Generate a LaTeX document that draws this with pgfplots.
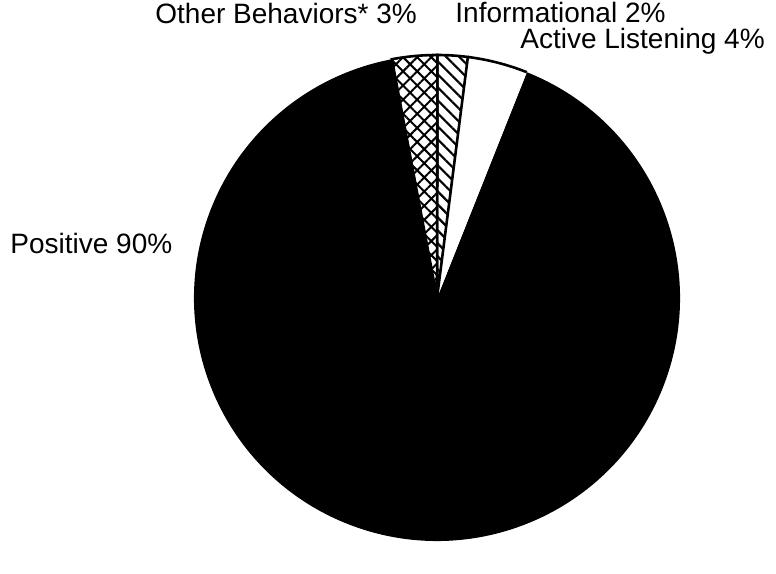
\documentclass[border=0pt]{standalone}
\usepackage{pgfplots}
\pgfplotsset{compat=1.18}
\usepackage{pgfplotstable}
\usetikzlibrary{patterns.meta}
\usepackage{fontspec}
\setmainfont{Liberation Sans}

\pgfplotstableread{
label value
Other 3
Informational 2
Active 4
Positive 90
}\piedata

\begin{document}
\begin{tikzpicture}
\pgfplotstablegetelem{0}{value}\of\piedata \edef\vOther{\pgfplotsretval}
\pgfplotstablegetelem{1}{value}\of\piedata \edef\vInfo{\pgfplotsretval}
\pgfplotstablegetelem{2}{value}\of\piedata \edef\vActive{\pgfplotsretval}
\pgfplotstablegetelem{3}{value}\of\piedata \edef\vPos{\pgfplotsretval}
\pgfmathsetmacro\aA{100.7}
\pgfmathsetmacro\aB{\aA-3.6*\vOther}
\pgfmathsetmacro\aC{\aB-3.6*\vInfo}
\pgfmathsetmacro\aD{\aC-3.6*\vActive}
\pgfmathsetmacro\aE{\aA-360}
\def\R{121.5pt}
\begin{axis}[
  hide axis, scale only axis,
  width=388pt, height=271.5pt,
  xmin=0, xmax=776, ymin=0, ymax=543,
  clip=false,
]
\path (axis cs:0,0) rectangle (axis cs:776,543);
% Positive
\fill[black] (axis cs:437,245) -- ++(\aD:\R) arc[start angle=\aD, end angle=\aE, radius=\R] -- cycle;
% Active Listening (white)
\fill[white] (axis cs:437,245) -- ++(\aC:\R) arc[start angle=\aC, end angle=\aD, radius=\R] -- cycle;
\draw[black, line width=1.3pt] (axis cs:437,245) ++(\aC:\R) arc[start angle=\aC, end angle=\aD, radius=\R];
% Informational
\fill[white] (axis cs:437,245) -- ++(\aB:\R) arc[start angle=\aB, end angle=\aC, radius=\R] -- cycle;
\fill[pattern={Lines[angle=-45,distance=4.6pt,line width=1.1pt]}, pattern color=black] (axis cs:437,245) -- ++(\aB:\R) arc[start angle=\aB, end angle=\aC, radius=\R] -- cycle;
\draw[black, line width=1.3pt] (axis cs:437,245) -- ++(\aB:\R) arc[start angle=\aB, end angle=\aC, radius=\R] -- cycle;
% Other Behaviors
\fill[white] (axis cs:437,245) -- ++(\aA:\R) arc[start angle=\aA, end angle=\aB, radius=\R] -- cycle;
\fill[pattern={Hatch[angle=45,distance=5pt,line width=1.0pt]}, pattern color=black] (axis cs:437,245) -- ++(\aA:\R) arc[start angle=\aA, end angle=\aB, radius=\R] -- cycle;
\draw[black, line width=1.3pt] (axis cs:437,245) -- ++(\aA:\R) arc[start angle=\aA, end angle=\aB, radius=\R] -- cycle;
% labels
\node[anchor=base west, inner sep=0pt, font=\fontsize{14}{16}\selectfont] at (axis cs:155,519) {Other Behaviors* \vOther\%};
\node[anchor=base west, inner sep=0pt, font=\fontsize{14}{16}\selectfont] at (axis cs:455,520) {Informational \vInfo\%};
\node[anchor=base west, inner sep=0pt, font=\fontsize{14}{16}\selectfont] at (axis cs:520,494) {Active Listening \vActive\%};
\node[anchor=base west, inner sep=0pt, font=\fontsize{14}{16}\selectfont] at (axis cs:10,289) {Positive \vPos\%};
\end{axis}
\end{tikzpicture}
\end{document}
